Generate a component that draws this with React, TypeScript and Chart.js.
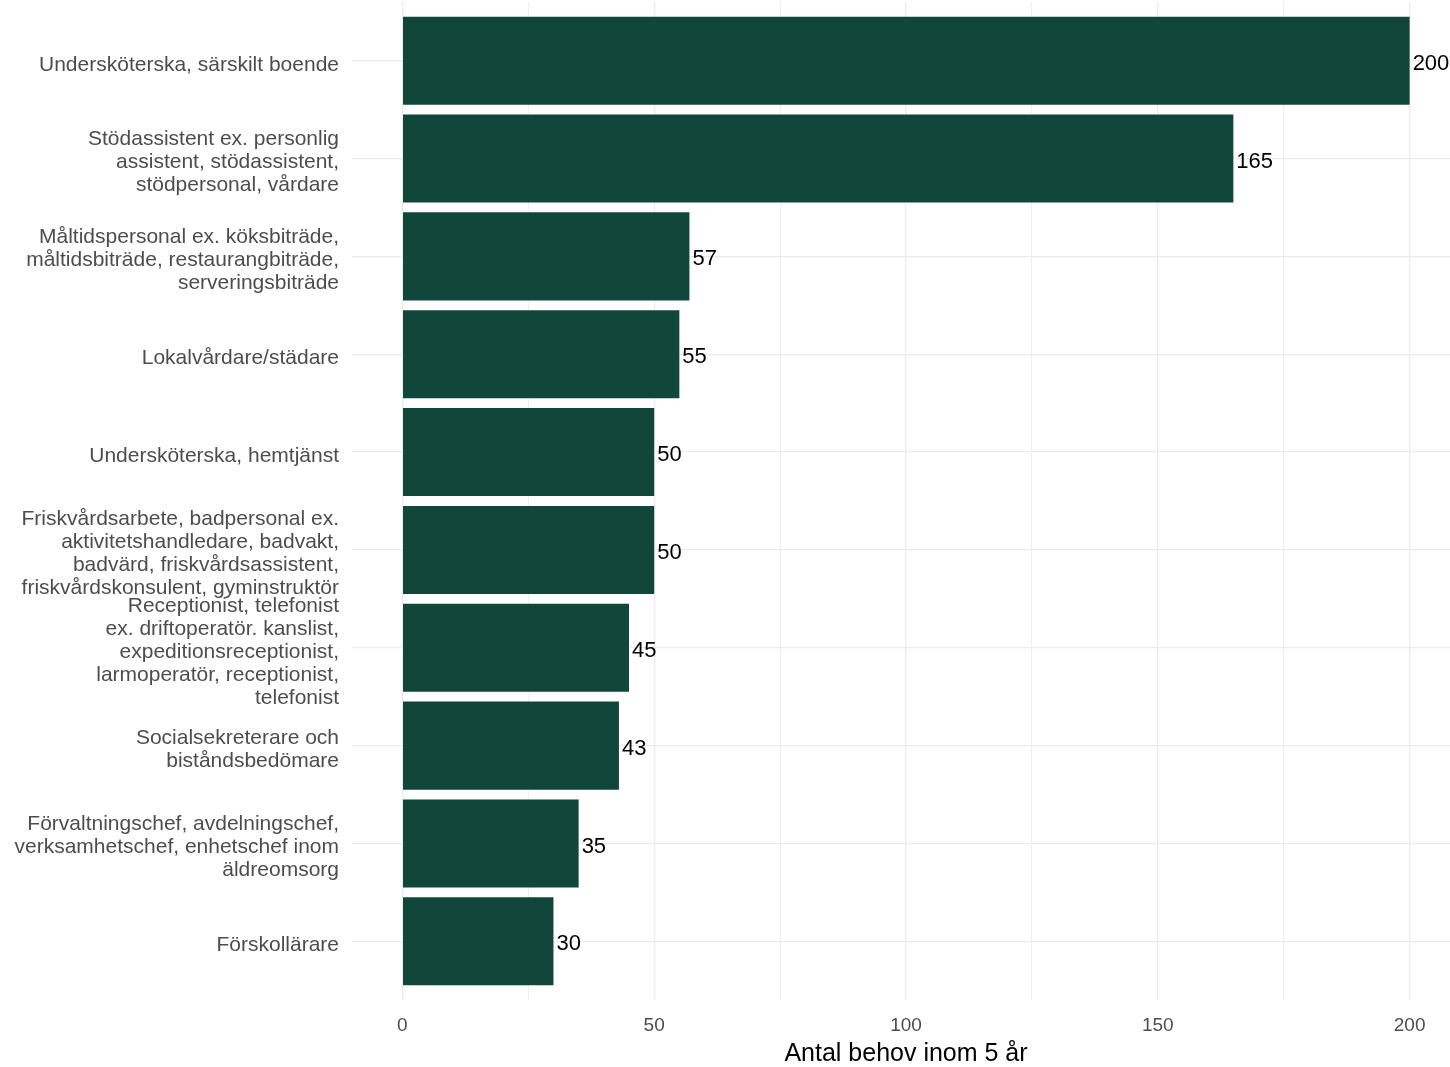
import React, { useEffect, useRef } from "react";
import { Chart, registerables } from "chart.js";

Chart.register(...registerables);

const categories: (string | string[])[] = [
  "Undersköterska, särskilt boende",
  ["Stödassistent ex. personlig", "assistent, stödassistent,", "stödpersonal, vårdare"],
  ["Måltidspersonal ex. köksbiträde,", "måltidsbiträde, restaurangbiträde,", "serveringsbiträde"],
  "Lokalvårdare/städare",
  "Undersköterska, hemtjänst",
  ["Friskvårdsarbete, badpersonal ex.", "aktivitetshandledare, badvakt,", "badvärd, friskvårdsassistent,", "friskvårdskonsulent, gyminstruktör"],
  ["Receptionist, telefonist", "ex. driftoperatör. kanslist,", "expeditionsreceptionist,", "larmoperatör, receptionist,", "telefonist"],
  ["Socialsekreterare och", "biståndsbedömare"],
  ["Förvaltningschef, avdelningschef,", "verksamhetschef, enhetschef inom", "äldreomsorg"],
  "Förskollärare",
];

const values: number[] = [200, 165, 57, 55, 50, 50, 45, 43, 35, 30];

const xTicks: number[] = [0, 25, 50, 75, 100, 125, 150, 175, 200];
const xLabeled: number[] = [0, 50, 100, 150, 200];

const axisTitle = "Antal behov inom 5 år";

const BAR_COLOR = "#10473A";
const FONT = "'Liberation Sans', Arial, sans-serif";

const valueLabelPlugin = {
  id: "valueLabels",
  afterDatasetsDraw(chart: any) {
    const ctx = chart.ctx;
    const meta = chart.getDatasetMeta(0);
    ctx.save();
    ctx.font = `22px ${FONT}`;
    ctx.fillStyle = "#000000";
    ctx.textAlign = "left";
    ctx.textBaseline = "middle";
    meta.data.forEach((bar: any, i: number) => {
      ctx.fillText(String(values[i]), bar.x + 3, bar.y + 3);
    });
    ctx.restore();
  },
};

export default function App() {
  const canvasRef = useRef<HTMLCanvasElement | null>(null);

  useEffect(() => {
    document.body.style.margin = "0";
    const canvas = canvasRef.current;
    if (!canvas) return;
    const chart = new Chart(canvas, {
      type: "bar",
      data: {
        datasets: [
          {
            data: values.map((v, i) => ({ x: v, y: i })),
            backgroundColor: BAR_COLOR,
            borderWidth: 0,
            barPercentage: 0.9,
            categoryPercentage: 1,
          },
        ],
      },
      options: {
        indexAxis: "y",
        animation: false,
        responsive: false,
        maintainAspectRatio: false,
        layout: { padding: { top: 2, left: 0, right: 0, bottom: 0 } },
        plugins: {
          legend: { display: false },
          tooltip: { enabled: false },
        },
        scales: {
          x: {
            type: "linear",
            position: "bottom",
            min: -10,
            max: 210,
            offset: false,
            afterBuildTicks: (scale: any) => {
              scale.ticks = xTicks.map((v) => ({ value: v }));
            },
            afterFit: (scale: any) => {
              scale.height = 67;
            },
            border: { display: false },
            grid: {
              offset: false,
              drawTicks: false,
              color: "#EBEBEB",
              lineWidth: (c: any) => (c.tick && xLabeled.includes(c.tick.value) ? 1.3 : 0.8),
            },
            ticks: {
              padding: 14,
              color: "#4D4D4D",
              font: { family: FONT, size: 19 },
              maxRotation: 0,
              autoSkip: false,
              callback: (v: any) => (xLabeled.includes(Number(v)) ? String(v) : ""),
            },
            title: {
              display: true,
              text: axisTitle,
              color: "#000000",
              font: { family: FONT, size: 25, lineHeight: 1 },
              padding: { top: 0, bottom: 0 },
            },
          },
          y: {
            type: "linear",
            reverse: true,
            min: -0.6,
            max: 9.6,
            offset: false,
            afterBuildTicks: (scale: any) => {
              scale.ticks = categories.map((_, i) => ({ value: i }));
            },
            afterFit: (scale: any) => {
              scale.width = 352;
              scale.paddingTop = 0;
              scale.paddingBottom = 0;
            },
            border: { display: false },
            grid: {
              offset: false,
              drawTicks: false,
              color: "#EBEBEB",
              lineWidth: 1.3,
            },
            ticks: {
              padding: 13,
              labelOffset: 4,
              color: "#4D4D4D",
              font: { family: FONT, size: 21, lineHeight: "23px" as any },
              autoSkip: false,
              callback: (v: any) => categories[Number(v)] as any,
            },
          },
        },
      },
      plugins: [valueLabelPlugin],
    } as any);
    return () => chart.destroy();
  }, []);

  return (
    <div style={{ width: 1450, height: 1067, overflow: "hidden", background: "#ffffff" }}>
      <canvas ref={canvasRef} width={1460} height={1067} style={{ width: 1460, height: 1067, display: "block" }} />
    </div>
  );
}
